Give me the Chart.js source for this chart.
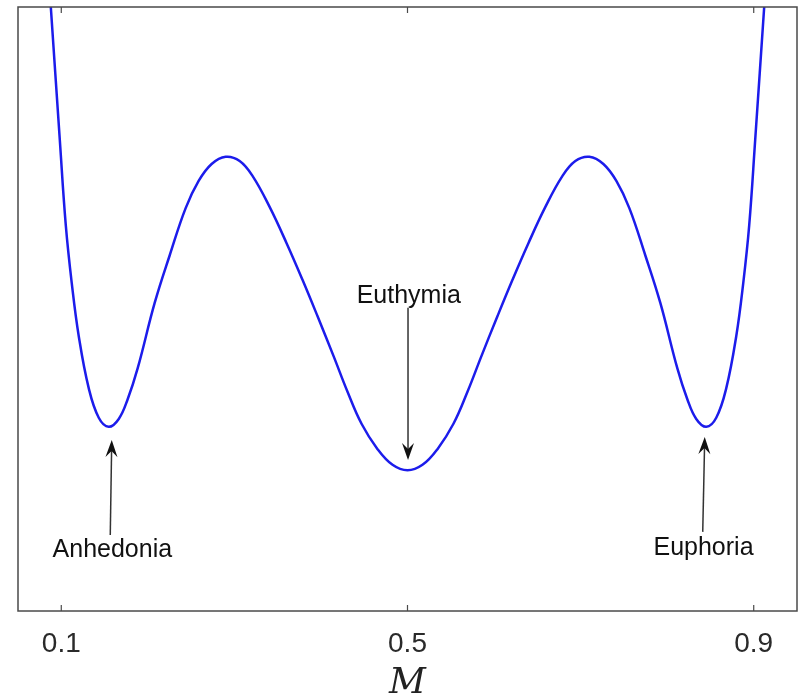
<!DOCTYPE html>
<html>
<head>
<meta charset="utf-8">
<script src="https://cdn.jsdelivr.net/npm/chart.js@4.4.0/dist/chart.umd.min.js"></script>
<style>
    body { margin: 0; background: #fff; }
    canvas { display: block; }
</style>
</head>
<body>
<canvas id="pot_canvas" width="798" height="695"></canvas>
<script>
// mood variable M and the potential (arbitrary units, 0..1 of the box)
const mValues = [0.0879, 0.0983, 0.1052, 0.1121, 0.1202, 0.1317, 0.1433, 0.1548, 0.1664, 0.1768,
    0.1883, 0.2079, 0.2253, 0.2437, 0.2587, 0.2737, 0.2899, 0.3061, 0.3211, 0.3407,
    0.3603, 0.3788, 0.3961, 0.4146, 0.4307, 0.4469, 0.4654, 0.4827, 0.5000,
    0.5173, 0.5346, 0.5531, 0.5693, 0.5854, 0.6039, 0.6212, 0.6397, 0.6593, 0.6789,
    0.6939, 0.7101, 0.7263, 0.7413, 0.7563, 0.7747, 0.7921, 0.8117, 0.8232, 0.8336,
    0.8452, 0.8567, 0.8683, 0.8798, 0.8879, 0.8948, 0.9017, 0.9121]
const potential = [1.000, 0.780, 0.639, 0.543, 0.455, 0.369, 0.320, 0.305, 0.318, 0.351,
    0.402, 0.510, 0.589, 0.667, 0.712, 0.740, 0.752, 0.745, 0.720, 0.669,
    0.609, 0.548, 0.488, 0.422, 0.363, 0.310, 0.268, 0.242, 0.233,
    0.242, 0.268, 0.310, 0.363, 0.422, 0.488, 0.548, 0.609, 0.669, 0.720,
    0.745, 0.752, 0.740, 0.712, 0.667, 0.589, 0.510, 0.402, 0.351, 0.318,
    0.305, 0.320, 0.369, 0.455, 0.543, 0.639, 0.780, 1.000]
const xTicks = [0.1, 0.5, 0.9]

// annotations, in data coordinates
const labelNames = ['Anhedonia', 'Euthymia', 'Euphoria']
const labelAt = [[0.159, 0.101], [0.5015, 0.521], [0.842, 0.104]]
const arrowFrom = [[0.1566, 0.126], [0.5006, 0.502], [0.8411, 0.131]]
const arrowTo = [[0.1583, 0.283], [0.5006, 0.250], [0.8434, 0.288]]

function drawArrow(ctx, x0, y0, x1, y1) {
    const ang = Math.atan2(y1 - y0, x1 - x0)
    const len = 17, half = 6, notch = 11
    ctx.strokeStyle = '#333'
    ctx.lineWidth = 1.5
    ctx.beginPath()
    ctx.moveTo(x0, y0)
    ctx.lineTo(x1 - Math.cos(ang) * notch, y1 - Math.sin(ang) * notch)
    ctx.stroke()
    ctx.save()
    ctx.translate(x1, y1)
    ctx.rotate(ang)
    ctx.fillStyle = '#111'
    ctx.beginPath()
    ctx.moveTo(0, 0)
    ctx.lineTo(-len, -half)
    ctx.lineTo(-notch, 0)
    ctx.lineTo(-len, half)
    ctx.closePath()
    ctx.fill()
    ctx.restore()
}

const framePlugin = {
    id: 'frame',
    afterDatasetsDraw(chart) {
        const ctx = chart.ctx
        const area = chart.chartArea
        const xs = chart.scales.x
        const ys = chart.scales.y
        ctx.save()
        ctx.strokeStyle = '#4a4a4a'
        ctx.lineWidth = 1.5
        ctx.strokeRect(area.left, area.top, area.right - area.left, area.bottom - area.top)
        ctx.lineWidth = 1.2
        xTicks.forEach(t => {
            const px = xs.getPixelForValue(t)
            ctx.beginPath()
            ctx.moveTo(px, area.bottom)
            ctx.lineTo(px, area.bottom - 6)
            ctx.moveTo(px, area.top)
            ctx.lineTo(px, area.top + 6)
            ctx.stroke()
        })
        labelNames.forEach((name, i) => {
            drawArrow(ctx,
                xs.getPixelForValue(arrowFrom[i][0]), ys.getPixelForValue(arrowFrom[i][1]),
                xs.getPixelForValue(arrowTo[i][0]), ys.getPixelForValue(arrowTo[i][1]))
            ctx.fillStyle = '#111'
            ctx.font = '25px "Liberation Sans", Arial, sans-serif'
            ctx.textAlign = 'center'
            ctx.textBaseline = 'middle'
            ctx.fillText(name, xs.getPixelForValue(labelAt[i][0]), ys.getPixelForValue(labelAt[i][1]))
        })
        ctx.restore()
    }
}

function chartPotential() {
    const points = mValues.map((m, i) => ({x: m, y: potential[i]}))
    const chart = new Chart(document.getElementById('pot_canvas'), {
        type: 'scatter',
        data: {
            datasets: [{
                data: points,
                showLine: true,
                borderColor: 'rgb(28, 28, 235)',
                borderWidth: 2.5,
                pointRadius: 0,
                tension: 0.4
            }]
        },
        options: {
            responsive: false,
            animation: false,
            layout: {
                padding: {left: 18, top: 7, right: 1, bottom: 0}
            },
            plugins: {
                legend: {display: false},
                tooltip: {enabled: false}
            },
            scales: {
                x: {
                    type: 'linear',
                    min: 0.05,
                    max: 0.95,
                    afterBuildTicks: axis => {
                        axis.ticks = xTicks.map(v => ({value: v}))
                    },
                    afterFit: axis => {
                        axis.height = 84
                    },
                    grid: {display: false, drawTicks: false},
                    border: {display: false},
                    ticks: {
                        padding: 16,
                        color: '#2a2a2a',
                        font: {family: 'Liberation Sans', size: 28},
                        callback: v => v.toFixed(1)
                    },
                    title: {
                        display: true,
                        text: 'M',
                        color: '#222',
                        font: {family: 'DejaVu Serif', style: 'italic', size: 36},
                        padding: {top: 0, bottom: -10}
                    }
                },
                y: {
                    display: false,
                    min: 0,
                    max: 1
                }
            }
        },
        plugins: [framePlugin]
    })
}

chartPotential()
</script>
</body>
</html>
